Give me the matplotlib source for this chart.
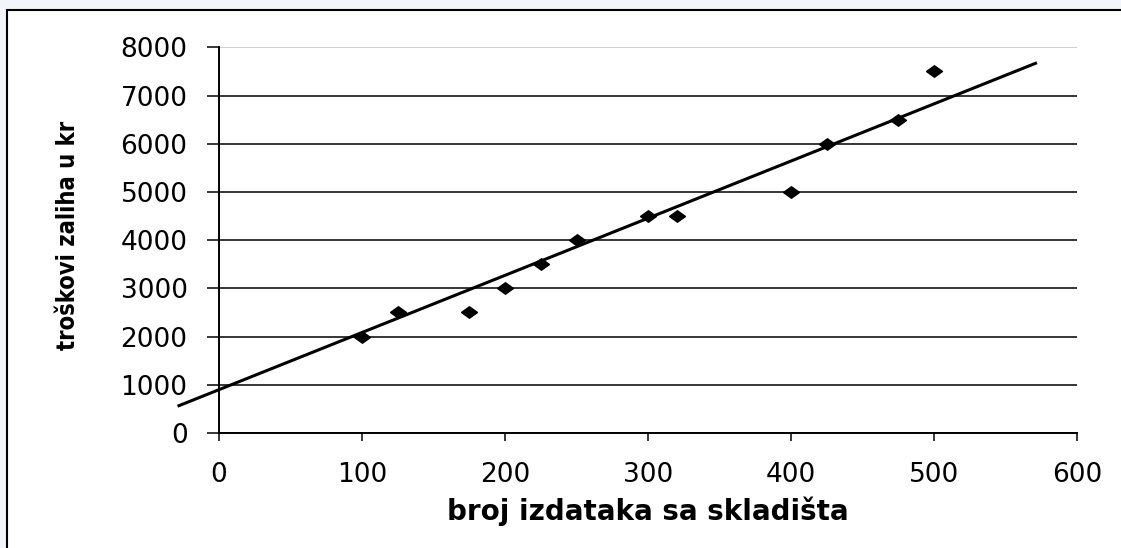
import matplotlib
matplotlib.use("Agg")
import matplotlib.pyplot as plt
from matplotlib import font_manager
from matplotlib.font_manager import FontProperties
from matplotlib.patches import Rectangle

# ---- data ----
issues = [100, 125, 175, 200, 225, 250, 300, 320, 400, 425, 475, 500]
costs = [2000, 2500, 2500, 3000, 3500, 4000, 4500, 4500, 5000, 6000, 6500, 7500]
trend_x = [-29, 572]
trend_y = [555, 7680]
x_ticks = [0, 100, 200, 300, 400, 500, 600]
y_ticks = [0, 1000, 2000, 3000, 4000, 5000, 6000, 7000, 8000]
x_label = "broj izdataka sa skladišta"
y_label = "troškovi zaliha u kr"

W, H, DPI = 1121, 548, 100
fig = plt.figure(figsize=(W / DPI, H / DPI), dpi=DPI, facecolor="#f2f6fa")

# outer white frame with black border (extends past right/bottom edges)
frame = Rectangle((7 / W, -0.1), 1.5, 1.1 - 10.3 / H,
                  transform=fig.transFigure, facecolor="white",
                  edgecolor="black", linewidth=1.5, zorder=-10)
fig.patches.append(frame)

left, right = 219 / W, 1077 / W
bottom, top = 1 - 433 / H, 1 - 47.3 / H
ax = fig.add_axes([left, bottom, right - left, top - bottom])
ax.set_zorder(5)
ax.set_facecolor("none")

ax.set_xlim(0, 600)
ax.set_ylim(0, 8000)
ax.set_xticks(x_ticks)
ax.set_yticks(y_ticks)

tick_font = "DejaVu Sans"
ax.set_xticklabels([str(v) for v in x_ticks], fontsize=19, family=tick_font)
ax.set_yticklabels([str(v) for v in y_ticks], fontsize=19, family=tick_font)

ax.tick_params(axis="y", direction="out", length=8.6, width=1.1, pad=14, colors="black")
ax.tick_params(axis="x", direction="out", length=5.8, width=1.1, pad=15, colors="black")

for s in ["top", "right"]:
    ax.spines[s].set_visible(False)
for s in ["left", "bottom"]:
    ax.spines[s].set_linewidth(1.4)
    ax.spines[s].set_color("black")

ax.yaxis.grid(True, color="black", linewidth=1.1)
ax.xaxis.grid(False)
ax.set_axisbelow(True)
gl = ax.get_ygridlines()
gl[-1].set_color("#c4c4c4")

# data points
diamond = [(-1, 0), (0, 0.72), (1, 0), (0, -0.72), (-1, 0)]
ax.plot(issues, costs, linestyle="none", marker=diamond, markersize=11.5,
        color="black", zorder=4)

# trend line
ax.plot(trend_x, trend_y, color="black", linewidth=2.2, clip_on=False,
        solid_capstyle="butt", zorder=3)

# y label font: prefer a condensed bold face
yprop = None
for f in font_manager.fontManager.ttflist:
    if f.name == "Liberation Sans Narrow" and f.weight in (700, "bold") and f.style == "normal":
        yprop = FontProperties(fname=f.fname, size=21.5)
        break
if yprop is None:
    for f in font_manager.fontManager.ttflist:
        if f.name == "DejaVu Sans" and f.stretch == "condensed" and f.weight in (700, "bold") and f.style == "normal":
            yprop = FontProperties(fname=f.fname, size=17)
            break
if yprop is None:
    yprop = FontProperties(family="DejaVu Sans", weight="bold", size=15.5)

fig.text(75 / W, 1 - 235.5 / H, y_label, rotation=90, rotation_mode="anchor",
         ha="center", va="baseline", fontproperties=yprop)

fig.text(648 / W, 1 - 519.5 / H, x_label, ha="center", va="baseline",
         fontsize=20, fontweight="bold", family="DejaVu Sans")

fig.savefig("out.png", dpi=DPI, facecolor=fig.get_facecolor())
